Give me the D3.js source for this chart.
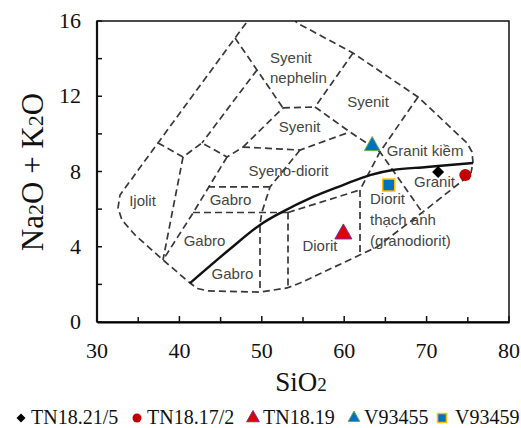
<!DOCTYPE html>
<html><head><meta charset="utf-8">
<script src="https://cdn.jsdelivr.net/npm/d3@7"></script>
<style>body{margin:0;background:#fff}svg{display:block}</style>
</head><body><svg id="c" width="521" height="428"></svg>
<script>
// ---------- data ----------
const samples = ["TN18.21/5", "TN18.17/2", "TN18.19", "V93455", "V93459"];
const sio2    = [71.4, 74.7, 59.9, 63.4, 65.4];
const alkali  = [7.97, 7.81, 4.68, 9.36, 7.28];
const xTicks = [30, 40, 50, 60, 70, 80];
const yTicks = [0, 4, 8, 12, 16];

// field boundaries [SiO2, Na2O+K2O]
const outerBoundary = [[50.5,17.3],[46.75,15.10],[37.40,9.52],[32.79,6.75],[32.55,6.06],[33.03,5.42],[34.61,4.63],[38.01,3.30],[41.29,2.07],[42.2,1.78],[43.5,1.65],[49.78,1.59],[53.06,1.81],[54.64,2.07],[63.98,3.99],[69.56,5.85],[74.9,7.7],[75.4,7.95],[75.63,8.5],[75.5,9.05],[74.90,9.52],[68.96,11.96],[61.07,14.30],[54.27,15.9],[52.5,16.9],[50.5,17.3]];
const zigzag        = [[37.40,9.52],[40.44,8.77],[42.74,9.52],[45.78,8.77],[47.72,9.30]];
const ijolitRight   = [[40.44,8.77],[38.01,3.30]];
const gabbroLeft    = [[45.78,8.77],[43.71,7.28],[41.65,5.79],[38.01,3.30]];
const diag2         = [[49.42,13.40],[42.74,9.52]];
const nephLeft      = [[46.75,15.10],[52.57,11.38]];
const nephBottom    = [[52.57,11.38],[56.46,11.43]];
const nephRight     = [[61.07,14.30],[56.46,11.43]];
const syenitLeft    = [[47.72,9.30],[52.57,11.38]];
const syenitBottom  = [[47.72,9.30],[54.64,9.14],[60.70,10.10]];
const graniteLeft   = [[56.46,11.43],[60.70,10.10],[64.34,9.04],[69.6,5.75]];
const alkGraniteLeft= [[68.96,11.96],[64.34,9.04],[61.92,7.02]];
const dioriteRight  = [[61.92,7.02],[61.92,3.55]];
const dioriteTop    = [[53.18,5.82],[61.92,7.02]];
const gabbroMidRight= [[53.18,5.82],[53.18,1.81]];
const gabbroMid     = [[41.65,5.82],[53.18,5.82]];
const gabbroUpperTop= [[43.47,7.18],[51.0,7.18]];
const syenoDioRight = [[54.64,9.14],[51.0,7.18],[50.02,5.85],[49.78,5.2],[49.78,1.59]];
const dashedLines = [outerBoundary, zigzag, ijolitRight, gabbroLeft, diag2, nephLeft, nephBottom, nephRight, syenitLeft, syenitBottom, graniteLeft, alkGraniteLeft, dioriteRight, dioriteTop, gabbroMidRight, gabbroMid, gabbroUpperTop, syenoDioRight];
const irvine = [[41.29,2.07],[46.14,3.88],[49.78,5.16],[52.21,5.79],[56.21,6.65],[59.85,7.28],[63.13,7.81],[65.92,8.08],[70.05,8.24],[75.63,8.45]];

// field labels: text, SiO2, alkali (baseline), anchor
const fieldNames  = ["Syenit","nephelin","Syenit","Syenit","Granit kiềm","Syeno-diorit","Granit","Diorit","thạch anh","(granodiorit)","Ijolit","Gabro","Gabro","Gabro","Diorit"];
const fieldX      = [51.0, 51.0, 62.89, 54.58, 69.81, 53.24, 70.96, 63.13, 63.13, 63.13, 35.52, 46.20, 43.05, 46.44, 57.06];
const fieldY      = [13.77, 12.71, 11.43, 10.10, 8.83, 7.76, 7.18, 6.27, 5.16, 4.04, 6.17, 6.22, 4.04, 2.29, 3.77];
const fieldAnchor = ["start","start","middle","middle","middle","middle","middle","start","start","start","middle","middle","middle","middle","middle"];

// ---------- drawing ----------
const svg = d3.select("#c");
const L = 97, R = 509, T = 21, B = 322;
const x = d3.scaleLinear().domain([xTicks[0], xTicks[xTicks.length-1]]).range([L, R]);
const y = d3.scaleLinear().domain([yTicks[0], yTicks[yTicks.length-1]]).range([B, T]);

svg.append("defs").append("clipPath").attr("id","clip")
  .append("rect").attr("x",L).attr("y",T).attr("width",R-L).attr("height",B-T);

const line = d3.line().x(d=>x(d[0])).y(d=>y(d[1]));
const g = svg.append("g").attr("clip-path","url(#clip)");
g.selectAll("path.dash").data(dashedLines).join("path").attr("class","dash")
  .attr("d", line).attr("fill","none").attr("stroke","#383838")
  .attr("stroke-width",1.7).attr("stroke-dasharray","7,4");
g.append("path").attr("d", line.curve(d3.curveCatmullRom)(irvine))
  .attr("fill","none").attr("stroke","#111").attr("stroke-width",2.4);

// labels
svg.append("g").selectAll("text").data(fieldNames).join("text")
  .attr("x",(d,i)=>x(fieldX[i])).attr("y",(d,i)=>y(fieldY[i]))
  .attr("text-anchor",(d,i)=>fieldAnchor[i])
  .attr("font-family","'Liberation Sans Narrow','Arial Narrow','Liberation Sans',sans-serif")
  .attr("font-size",15).attr("fill","#454545").text(d=>d);

// axes frame
svg.append("rect").attr("x",L).attr("y",T).attr("width",R-L).attr("height",B-T)
  .attr("fill","none").attr("stroke","#111").attr("stroke-width",1.5);
const xAxis = d3.axisBottom(x).tickValues(d3.range(30,81,5)).tickSize(0).tickFormat("");
svg.append("g").attr("transform",`translate(0,${B})`).call(xAxis).select(".domain").attr("stroke-width",2.2);
// ticks inward
svg.append("g").selectAll("line").data(d3.range(30,81,5)).join("line")
  .attr("x1",d=>x(d)).attr("x2",d=>x(d)).attr("y1",B).attr("y2",d=>B-(d%10===0?6:5))
  .attr("stroke","#111").attr("stroke-width",1.5);
svg.append("g").selectAll("line").data(d3.range(0,17,2)).join("line")
  .attr("y1",d=>y(d)).attr("y2",d=>y(d)).attr("x1",L).attr("x2",L+5)
  .attr("stroke","#111").attr("stroke-width",1.5);
svg.append("line").attr("x1",L).attr("x2",L).attr("y1",T).attr("y2",B).attr("stroke","#111").attr("stroke-width",2.2);

const serif = "'Liberation Serif','Times New Roman',serif";
svg.append("g").selectAll("text").data(xTicks).join("text")
  .attr("x",d=>x(d)).attr("y",358).attr("text-anchor","middle")
  .attr("font-family",serif).attr("font-size",22).attr("fill","#111").text(d=>d);
svg.append("g").selectAll("text").data(yTicks).join("text")
  .attr("x",81).attr("y",d=>y(d)+7).attr("text-anchor","end")
  .attr("font-family",serif).attr("font-size",22).attr("fill","#111").text(d=>d);

// axis titles
const xt = svg.append("text").attr("x",301).attr("y",391).attr("text-anchor","middle")
  .attr("font-family",serif).attr("font-size",27).attr("fill","#111");
xt.append("tspan").text("SiO");
xt.append("tspan").attr("font-size",19).text("2");
const yt = svg.append("text").attr("transform","translate(43,172) rotate(-90)").attr("text-anchor","middle")
  .attr("font-family",serif).attr("font-size",31).attr("fill","#111");
yt.append("tspan").text("Na");
yt.append("tspan").attr("font-size",22).text("2");
yt.append("tspan").text("O + K");
yt.append("tspan").attr("font-size",22).text("2");
yt.append("tspan").text("O");

// markers
function marker(sel, k, s) {
  if (k === 0) { sel.append("path").attr("d", d3.symbol(d3.symbolSquare, 72*s*s)()).attr("transform","rotate(45)").attr("fill","#000"); }
  if (k === 1) { sel.append("circle").attr("r",6*s).attr("fill","#c00000"); }
  if (k === 2 || k === 3) {
    const w = (k===2?8.5:7.8)*s, h = (k===2?15:14)*s;
    sel.append("path").attr("d",`M0,${-h*2/3}L${w},${h/3}L${-w},${h/3}Z`)
      .attr("fill", k===2?"#e00000":"#0070c0").attr("stroke", k===2?"#7030a0":"#70ad47").attr("stroke-width",1);
  }
  if (k === 4) { sel.append("rect").attr("x",-6*s).attr("y",-6*s).attr("width",12*s).attr("height",12*s)
      .attr("fill","#0070c0").attr("stroke","#ffc000").attr("stroke-width",1.5); }
}
samples.forEach((n,i)=>{
  const gg = svg.append("g").attr("transform",`translate(${x(sio2[i])},${y(alkali[i])})`);
  marker(gg, i, 1);
});

// legend
const legX = [21, 137, 253, 354, 442];
samples.forEach((n,i)=>{
  const gg = svg.append("g").attr("transform",`translate(${legX[i]},${418})`);
  marker(gg, i, 0.75);
  svg.append("text").attr("x",legX[i]+ (i===4?13:10)).attr("y",424).attr("font-family",serif)
    .attr("font-size",20).attr("fill","#111").text(n);
});
</script></body></html>
